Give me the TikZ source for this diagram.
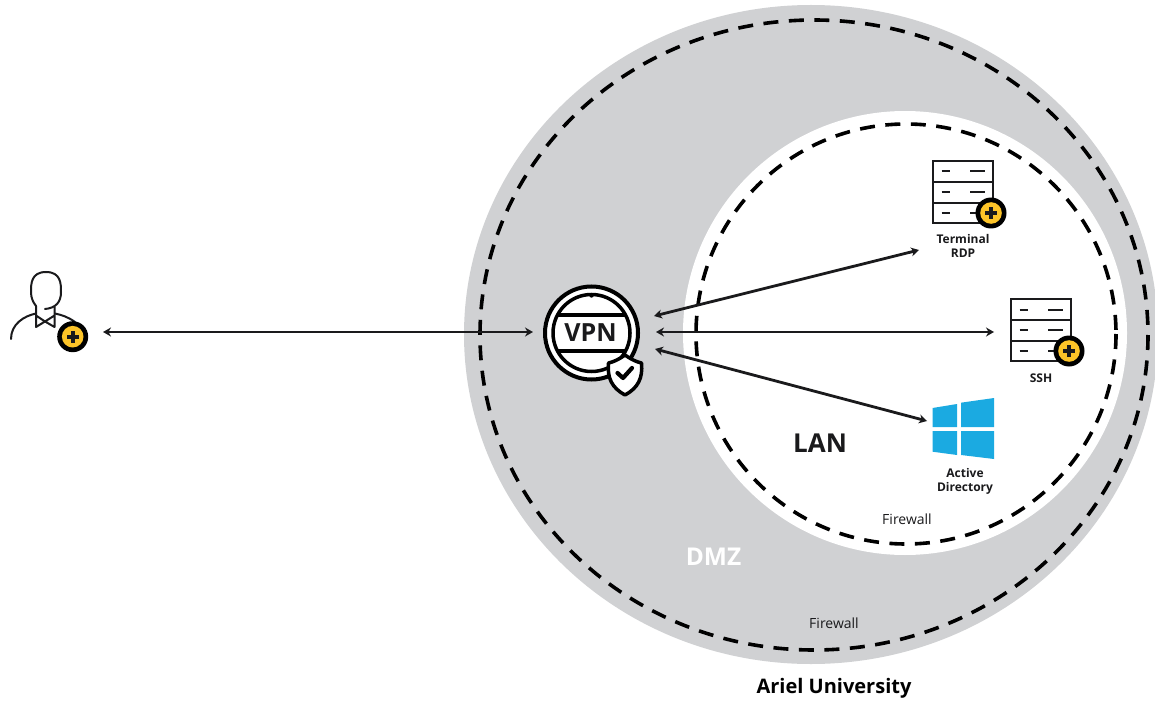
\documentclass[tikz,border=0pt]{standalone}
\usepackage{fontspec}
\setmainfont{Open Sans}
\usetikzlibrary{arrows.meta}
\definecolor{zone}{RGB}{208,209,211}
\definecolor{ink}{RGB}{26,26,28}
\definecolor{plusy}{RGB}{253,196,40}
\definecolor{winb}{RGB}{27,170,225}
\tikzset{
  x=1pt,y=-1pt,
  fw/.style={draw=black,line width=3.6pt,dash pattern=on 15pt off 10.5pt},
  link/.style={draw=ink,line width=2.8pt,{Stealth[length=8pt,width=9pt]}-{Stealth[length=8pt,width=9pt]}},
  lbl/.style={font=\fontsize{12}{14}\selectfont\bfseries,align=center,text=ink,inner sep=0pt},
  fwl/.style={font=\fontsize{14}{14}\selectfont,text=ink,inner sep=0pt},
  anchorpt/.style={inner sep=0pt,minimum size=0pt},
  srv/.style={draw=ink,line width=2pt},
  badge/.pic={
    \fill[black] (0,0) circle (15.5);
    \fill[plusy] (0,0) circle (10.8);
    \fill[ink] (-6.2,-2) rectangle (6.2,2);
    \fill[ink] (-2,-6.2) rectangle (2,6.2);
  },
  server/.pic={
    \draw[srv,fill=white] (0,0) rectangle (60,62);
    \draw[srv] (0,21) -- (60,21) (0,42) -- (60,42);
    \foreach \y in {10.5,31.3,52}{
      \draw[srv] (8.7,\y) -- (17,\y) (37,\y) -- (52,\y);
    }
    \pic at (58,52) {badge};
  }
}
\begin{document}
\begin{tikzpicture}
\useasboundingbox (0,0) rectangle (1155,703);
\fill[white] (0,0) rectangle (1155,703);
% zones
\fill[zone] (811,334.5) ellipse [x radius=347,y radius=329.5];
\draw[fw] (814,335) ellipse [x radius=334,y radius=315];
\fill[white] (905,333) circle (222);
\draw[fw] (906,334) circle (210);
% user
\begin{scope}[line width=2pt,line cap=round]
\draw[ink] (36,306)
  .. controls (33,302) and (31,298) .. (31,292)
  .. controls (31,284) and (31,272) .. (46,272)
  .. controls (61,272) and (61,284) .. (61,292)
  .. controls (61,302) and (56,308) .. (45,309);
\draw[ink] (11,339) .. controls (11,324) and (24,316) .. (36,313.5);
\draw[ink] (55,313.5) .. controls (62,315) and (68,317) .. (75,322);
\draw[ink,line join=round] (36,306) -- (36,327) -- (45,321.5) -- (36,315.5);
\draw[ink,line join=round] (54.5,307) -- (54.5,327) -- (45,321.5) -- (54.5,315.5);
\end{scope}
\pic at (72.7,336.7) {badge};
% windows
\fill[winb] (932.5,408) -- (957,404) -- (957,427) -- (932.5,427) -- cycle;
\fill[winb] (961,402.7) -- (994,398) -- (994,427) -- (961,427) -- cycle;
\fill[winb] (932.5,431) -- (957,431) -- (957,455) -- (932.5,451.7) -- cycle;
\fill[winb] (961,431) -- (994,431) -- (994,459) -- (961,455) -- cycle;
% servers
\pic at (933,161) {server};
\pic at (1011,299) {server};
% VPN
\fill[white] (591.5,333) circle (46);
\draw[black,line width=4pt] (591.5,333) circle (46.5);
\draw[black,line width=3.5pt] (591.5,333) circle (38.5);
\fill[black] (591.5,295.5) circle (2.2);
\begin{scope}
\clip (591.5,333) circle (38);
\fill[black] (545,312.7) rectangle (640,317);
\fill[black] (545,349) rectangle (640,353);
\end{scope}
\node[anchorpt,font=\fontsize{25}{25}\selectfont\bfseries,text=ink] (vpn) at (590.5,333) {VPN};
\draw[black,line width=3.5pt,fill=white,line join=round] (625,355)
  .. controls (618,360) and (613,362) .. (608.5,363)
  .. controls (607,378) and (612,388) .. (625,395)
  .. controls (638,388) and (643,378) .. (641.5,363)
  .. controls (637,362) and (632,360) .. (625,355) -- cycle;
\draw[black,line width=4.2pt,line cap=round,line join=round] (617.5,373) -- (623,378) -- (632,368);
% anchors for connectors
\coordinate (user) at (103,332);
\coordinate (vpnL) at (533,332);
\coordinate (vpnTop) at (654,316);
\coordinate (vpnMid) at (656,332);
\coordinate (vpnBot) at (655,349);
\coordinate (rdp) at (919,250);
\coordinate (ssh) at (994,332);
\coordinate (ad) at (927,421);
\draw[link] (user) -- (vpnL);
\draw[link] (vpnTop) -- (rdp);
\draw[link] (vpnMid) -- (ssh);
\draw[link] (vpnBot) -- (ad);
% labels
\node[lbl] (rdpl) at (963,246) {Terminal\\RDP};
\node[lbl] (sshl) at (1041,378) {SSH};
\node[lbl] (adl) at (965,481) {Active\\Directory};
\node[anchorpt,font=\fontsize{26}{26}\selectfont\bfseries,text=ink] (lan) at (820,443) {LAN};
\node[anchorpt,font=\fontsize{24.5}{24.5}\selectfont\bfseries,text=white] (dmz) at (713.5,557) {DMZ};
\node[fwl] (fw1) at (907,519) {Firewall};
\node[fwl] (fw2) at (834,623) {Firewall};
\node[anchorpt,font=\fontsize{20}{20}\selectfont\bfseries,text=black] (ariel) at (834,688.5) {Ariel University};
\end{tikzpicture}
\end{document}
